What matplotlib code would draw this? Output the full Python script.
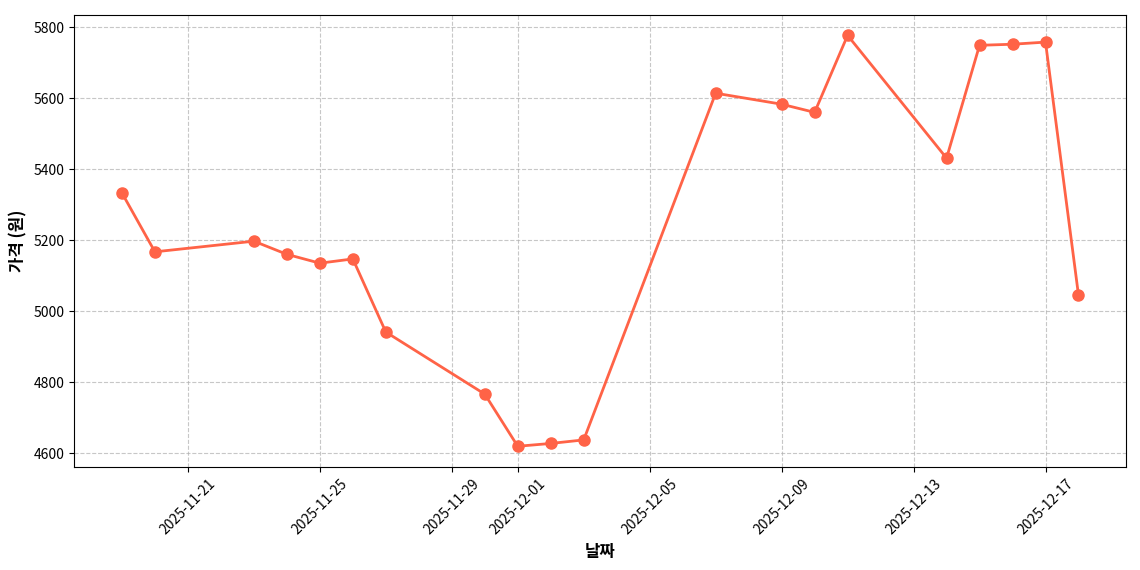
import matplotlib
matplotlib.use('Agg')
import matplotlib.pyplot as plt
import matplotlib.dates as mdates
import pandas as pd

plt.rcParams['font.family'] = ['Noto Sans CJK KR', 'DejaVu Sans']
plt.rcParams['axes.unicode_minus'] = False

# 날짜별 가격 데이터
dates = ['2025-11-19', '2025-11-20', '2025-11-23', '2025-11-24', '2025-11-25',
         '2025-11-26', '2025-11-27', '2025-11-30', '2025-12-01', '2025-12-02',
         '2025-12-03', '2025-12-07', '2025-12-09', '2025-12-10', '2025-12-11',
         '2025-12-14', '2025-12-15', '2025-12-16', '2025-12-17', '2025-12-18']
prices = [5333, 5167, 5197, 5160, 5135,
          5147, 4941, 4766, 4619, 4627,
          4637, 5614, 5583, 5560, 5777,
          5431, 5749, 5752, 5758, 5045]

df = pd.DataFrame({'date': pd.to_datetime(dates), 'price': prices})

fig, ax = plt.subplots(figsize=(11.4, 5.7), dpi=100)
ax.plot(df['date'], df['price'], marker='o', color='#FF6347',
        linewidth=2, markersize=8)

ax.set_xlabel('날짜', fontsize=12, fontweight='bold')
ax.set_ylabel('가격 (원)', fontsize=12, fontweight='bold')
ax.grid(True, linestyle='--', alpha=0.7)

ax.xaxis.set_major_locator(mdates.DayLocator(bymonthday=[1, 5, 9, 13, 17, 21, 25, 29]))
ax.xaxis.set_major_formatter(mdates.DateFormatter('%Y-%m-%d'))
plt.xticks(rotation=45)

fig.subplots_adjust(left=0.065, right=0.988, top=0.974, bottom=0.181)
plt.savefig('out.png', dpi=100)
